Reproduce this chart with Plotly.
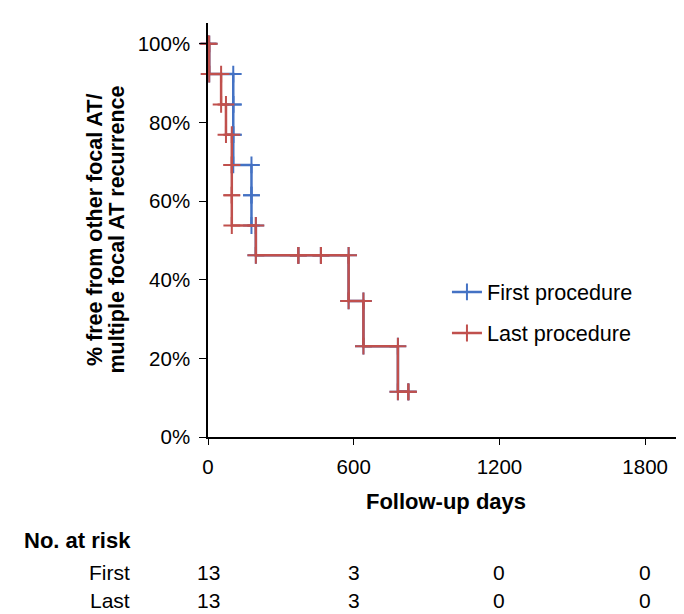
import plotly.graph_objects as go

# Kaplan-Meier data (days, survival after each point)
first_days = [0, 5, 104, 104, 104, 179, 179, 197, 372, 465, 579, 640, 782, 825]
first_surv = [1.0, 0.923, 0.846, 0.769, 0.692, 0.615, 0.538, 0.462, 0.462, 0.462, 0.346, 0.231, 0.115, 0.115]

last_days = [0, 5, 54, 74, 98, 98, 98, 197, 372, 465, 579, 640, 782, 825]
last_surv = [1.0, 0.923, 0.846, 0.769, 0.692, 0.615, 0.538, 0.462, 0.462, 0.462, 0.346, 0.231, 0.115, 0.115]

x_ticks = [0, 600, 1200, 1800]
y_ticks = [0, 0.2, 0.4, 0.6, 0.8, 1.0]
risk_first = [13, 3, 0, 0]
risk_last = [13, 3, 0, 0]
y_title_lines = ["% free from other focal AT/", "multiple focal AT recurrence"]

BLUE = "#4472C4"
RED = "#C0504D"
FONT = "Arial, Liberation Sans, Helvetica, sans-serif"


def step_vertices(days, surv):
    xs, ys = [days[0]], [surv[0]]
    for i in range(1, len(days)):
        xs += [days[i], days[i]]
        ys += [surv[i - 1], surv[i]]
    return xs, ys


fig = go.Figure()
for name, days, surv, color, grp in [
    ("First procedure", first_days, first_surv, BLUE, "a"),
    ("Last procedure", last_days, last_surv, RED, "b"),
]:
    xs, ys = step_vertices(days, surv)
    fig.add_trace(go.Scatter(
        x=xs, y=ys, name=name, mode="lines+markers", legendgroup=grp,
        line=dict(color=color, width=2.5),
        marker=dict(symbol="cross-thin", size=12, line=dict(color=color, width=2)),
        cliponaxis=False,
    ))

annotations = []
# rotated y-axis title (two tightly spaced lines)
for txt, xp in zip(y_title_lines, [-0.2374, -0.1922]):
    annotations.append(dict(text="<b>" + txt + "</b>", xref="paper", yref="paper",
                            x=xp, y=0.50, xanchor="center", yanchor="middle",
                            textangle=-90, showarrow=False,
                            font=dict(size=21.5, color="black", family=FONT)))
# number at risk table
annotations.append(dict(text="<b>No. at risk</b>", xref="paper", yref="paper",
                        x=-0.391, y=-0.249, xanchor="left", yanchor="middle",
                        showarrow=False, font=dict(size=22, color="black", family=FONT)))
for label, vals, ypos in [("First", risk_first, -0.3285), ("Last", risk_last, -0.396)]:
    annotations.append(dict(text=label, xref="paper", yref="paper", x=-0.160, y=ypos,
                            xanchor="right", yanchor="middle", showarrow=False,
                            font=dict(size=21, color="black", family=FONT)))
    for xv, v in zip(x_ticks, vals):
        annotations.append(dict(text=str(v), xref="x", yref="paper", x=xv, y=ypos,
                                xanchor="center", yanchor="middle", showarrow=False,
                                font=dict(size=21, color="black", family=FONT)))

fig.update_layout(
    width=676, height=606,
    margin=dict(l=200, r=0, t=15, b=177),
    paper_bgcolor="white", plot_bgcolor="white",
    font=dict(family=FONT, size=21, color="black"),
    showlegend=True,
    legend=dict(x=0.502, y=0.40, xanchor="left", yanchor="top",
                font=dict(size=21.6, color="black"), tracegroupgap=10,
                bgcolor="rgba(0,0,0,0)"),
    xaxis=dict(range=[0, 1960], tickvals=x_ticks, ticktext=[str(t) for t in x_ticks],
               showgrid=False, zeroline=False, showline=True, linecolor="black", linewidth=1.5,
               ticks="outside", ticklen=6, tickcolor="black", ticklabelstandoff=5,
               tickfont=dict(size=20.5),
               title=dict(text="<b>Follow-up days</b>", standoff=16,
                          font=dict(size=22, color="black"))),
    yaxis=dict(range=[0, 1.053], tickvals=y_ticks, tickformat=".0%",
               showgrid=False, zeroline=False, showline=True, linecolor="black", linewidth=1.5,
               ticks="outside", ticklen=7, tickcolor="black", ticklabelstandoff=5,
               tickfont=dict(size=20.5)),
    annotations=annotations,
)

fig.write_html("out.html")
